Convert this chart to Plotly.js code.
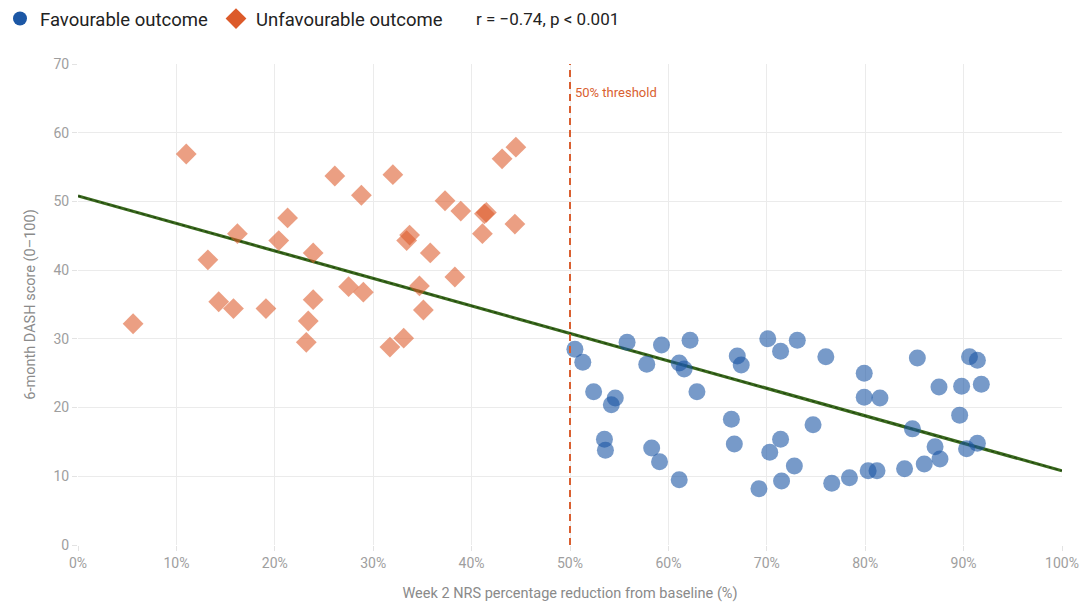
<!DOCTYPE html>
<html>
<head>
<meta charset="utf-8">
<script src="https://cdn.plot.ly/plotly-3.0.1.min.js"></script>
<style>html,body{margin:0;padding:0;background:#fff;}#chart{width:1082px;height:615px;}</style>
</head>
<body>
<div id="chart"></div>
<script>
// Unfavourable outcome (reduction < 50%)
const unfavX = [5.6, 11.0, 13.2, 14.3, 15.8, 16.2, 19.1, 20.4, 21.3, 23.2, 23.4, 23.9, 23.9, 26.1, 27.5, 28.8, 29.0, 31.7, 32.0, 33.1, 33.4, 33.7, 34.7, 35.1, 35.8, 37.3, 38.3, 38.9, 41.1, 41.3, 41.5, 43.1, 44.5, 44.4];
const unfavY = [32.2, 56.9, 41.5, 35.4, 34.4, 45.3, 34.4, 44.3, 47.6, 29.5, 32.6, 42.5, 35.7, 53.7, 37.6, 50.9, 36.8, 28.8, 53.9, 30.1, 44.3, 45.1, 37.7, 34.2, 42.5, 50.1, 39.0, 48.6, 45.3, 48.2, 48.4, 56.2, 57.9, 46.7];
// Favourable outcome (reduction >= 50%)
const favX = [50.5, 51.3, 52.4, 53.5, 53.6, 54.2, 54.6, 55.8, 57.8, 58.3, 59.1, 59.3, 61.1, 61.6, 61.1, 62.2, 62.9, 66.4, 66.7, 67.0, 67.4, 69.2, 70.1, 70.3, 71.4, 71.4, 71.5, 72.8, 73.1, 74.7, 76.0, 76.6, 78.4, 79.9, 79.9, 80.3, 81.2, 81.5, 84.0, 84.8, 85.3, 86.0, 87.1, 87.5, 87.6, 89.6, 89.8, 90.3, 90.6, 91.4, 91.4, 91.8];
const favY = [28.5, 26.6, 22.3, 15.4, 13.8, 20.4, 21.4, 29.5, 26.3, 14.1, 12.1, 29.1, 26.5, 25.6, 9.5, 29.8, 22.3, 18.3, 14.7, 27.5, 26.2, 8.2, 30.0, 13.5, 28.2, 15.4, 9.3, 11.5, 29.8, 17.5, 27.4, 9.0, 9.8, 25.0, 21.5, 10.8, 10.8, 21.4, 11.1, 16.9, 27.2, 11.8, 14.3, 23.0, 12.5, 18.9, 23.1, 14.0, 27.4, 26.9, 14.8, 23.4];
// Regression line endpoints
const trendX = [0, 100];
const trendY = [50.8, 10.8];
const threshold = 50;
const xTicks = [0, 10, 20, 30, 40, 50, 60, 70, 80, 90, 100];
const xTickText = ["0%", "10%", "20%", "30%", "40%", "50%", "60%", "70%", "80%", "90%", "100%"];
const yTicks = [0, 10, 20, 30, 40, 50, 60, 70];

const blue = '#1c57a5';
const orange = '#dc5a2a';

const traces = [
  {x: trendX, y: trendY, mode: 'lines', type: 'scatter', showlegend: false, hoverinfo: 'skip',
   line: {color: '#3a6a1d', width: 3.2}},
  {x: trendX, y: trendY, mode: 'lines', type: 'scatter', showlegend: false, hoverinfo: 'skip',
   line: {color: '#1d3a10', width: 1, dash: 'dot'}},
  {x: unfavX, y: unfavY, mode: 'markers', type: 'scatter', showlegend: false,
   marker: {symbol: 'diamond', size: 16, color: orange, opacity: 0.58, line: {width: 0}}},
  {x: favX, y: favY, mode: 'markers', type: 'scatter', showlegend: false,
   marker: {symbol: 'circle', size: 17, color: blue, opacity: 0.6, line: {width: 0}}},
  // legend entries
  {x: [null], y: [null], mode: 'markers', type: 'scatter', name: 'Favourable outcome', legend: 'legend',
   marker: {symbol: 'circle', size: 14, color: blue}},
  {x: [null], y: [null], mode: 'markers', type: 'scatter', name: 'Unfavourable outcome', legend: 'legend2',
   marker: {symbol: 'diamond', size: 17, color: orange}}
];

const legendFont = {size: 18.5, color: '#222', family: 'Roboto, sans-serif'};
const layout = {
  width: 1082, height: 615,
  margin: {l: 78, r: 20, t: 64, b: 70},
  paper_bgcolor: '#fff', plot_bgcolor: '#fff',
  font: {family: 'Roboto, "Liberation Sans", sans-serif', color: '#999'},
  showlegend: true,
  legend: {orientation: 'h', x: -84 / 984, xref: 'paper', xanchor: 'left', y: 1, yref: 'container', yanchor: 'top',
    font: legendFont, bgcolor: 'rgba(0,0,0,0)'},
  legend2: {orientation: 'h', x: (216 - 78) / 984, xref: 'paper', xanchor: 'left', y: 1, yref: 'container', yanchor: 'top',
    font: legendFont, bgcolor: 'rgba(0,0,0,0)'},
  xaxis: {range: [0, 100], tickvals: xTicks, ticktext: xTickText, showgrid: true, gridcolor: '#ebebeb',
    zeroline: false, showline: false, ticks: 'outside', ticklen: 5, tickcolor: '#e3e3e3',
    tickfont: {size: 14, color: '#9e9e9e'}, fixedrange: true,
    title: {text: 'Week 2 NRS percentage reduction from baseline (%)', font: {size: 14.5, color: '#8a8a8a'}, standoff: 18}},
  yaxis: {range: [0, 70], tickvals: yTicks, showgrid: true, gridcolor: '#ebebeb',
    zeroline: false, showline: false, ticks: 'outside', ticklen: 5, tickcolor: '#e3e3e3',
    tickfont: {size: 14, color: '#9e9e9e'}, fixedrange: true,
    title: {text: '6-month DASH score (0–100)', font: {size: 14.5, color: '#8a8a8a'}, standoff: 14}},
  shapes: [
    {type: 'line', xref: 'x', yref: 'y', x0: threshold, x1: threshold, y0: 0, y1: 70,
     line: {color: '#d95f30', width: 2, dash: '7px,5px'}}
  ],
  annotations: [
    {xref: 'x', yref: 'y', x: threshold, y: 65.8, xanchor: 'left', yanchor: 'middle', xshift: 3,
     text: '50% threshold', showarrow: false, font: {size: 13, color: '#d95f30'}},
    {xref: 'paper', yref: 'paper', x: (474 - 78) / 984, y: (545 - 19) / 481, xanchor: 'left', yanchor: 'middle',
     text: 'r = −0.74, p < 0.001', showarrow: false, font: {size: 17, color: '#222', family: 'Roboto, sans-serif'}}
  ]
};

Plotly.newPlot('chart', traces, layout, {displayModeBar: false, staticPlot: true});
</script>
</body>
</html>
